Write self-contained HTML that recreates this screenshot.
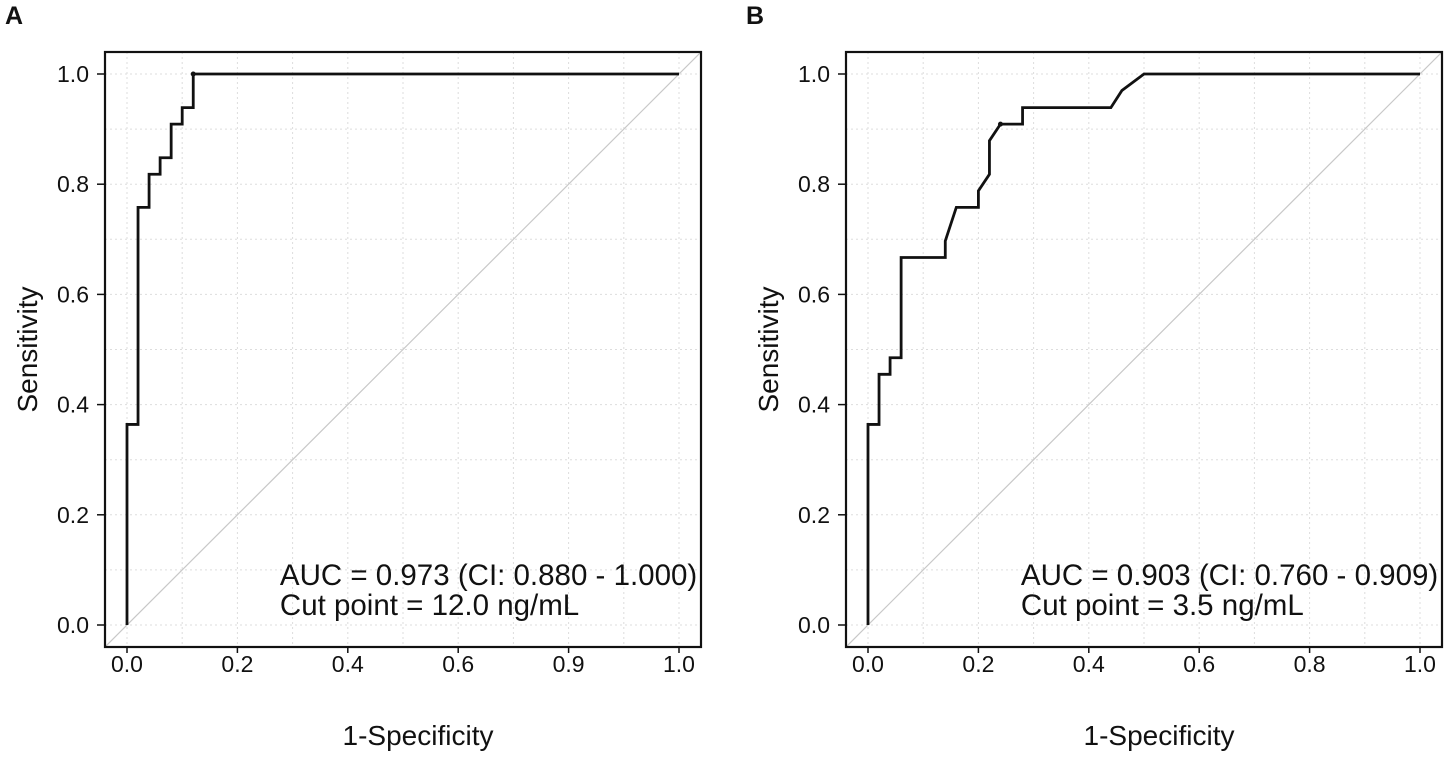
<!DOCTYPE html>
<html><head><meta charset="utf-8"><style>
body{margin:0;background:#fff}
svg text{font-family:"Liberation Sans",Arial,sans-serif;fill:#111}
</style></head><body>
<svg id="c" width="1446" height="756"></svg>
<script>
const xTicksA=["0.0","0.2","0.4","0.6","0.9","1.0"];
const xTicksB=["0.0","0.2","0.4","0.6","0.8","1.0"];
const yTicks=["0.0","0.2","0.4","0.6","0.8","1.0"];
const fprA=[0,0,0.02,0.02,0.04,0.04,0.06,0.06,0.08,0.08,0.10,0.10,0.12,0.12,1];
const tprA=[0,0.364,0.364,0.758,0.758,0.818,0.818,0.848,0.848,0.909,0.909,0.939,0.939,1,1];
const fprB=[0,0,0.02,0.02,0.04,0.04,0.06,0.06,0.14,0.14,0.16,0.20,0.20,0.22,0.22,0.24,0.28,0.28,0.44,0.46,0.50,1];
const tprB=[0,0.364,0.364,0.455,0.455,0.485,0.485,0.667,0.667,0.697,0.758,0.758,0.788,0.818,0.879,0.909,0.909,0.939,0.939,0.970,1,1];
const cutA=[0.12,1], cutB=[0.24,0.909];
const NS="http://www.w3.org/2000/svg";
const svg=document.getElementById('c');
function mk(t,a,p){const e=document.createElementNS(NS,t);for(const k in a)e.setAttribute(k,a[k]);(p||svg).appendChild(e);return e;}
function panel(id,x0,fpr,tpr,xt,cut,auc,cp){
  const g=mk('g',{});
  
  
  const X=v=>x0+v*552, Y=v=>625-v*551;
  for(let i=0;i<=10;i++){
    const gx=mk('line',{x1:X(i/10),x2:X(i/10),y1:52,y2:647,stroke:'#ddd','stroke-dasharray':'2,3'},g);
    
    
    const gy=mk('line',{x1:x0-22,x2:x0+574,y1:Y(i/10),y2:Y(i/10),stroke:'#ddd','stroke-dasharray':'2,3'},g);
    
    
  }
  const d=mk('line',{x1:X(-0.04),y1:Y(-0.04),x2:X(1.04),y2:Y(1.04),stroke:'#c8c8c8','stroke-width':1.2},g);
  
  
  const pts=fpr.map((f,i)=>X(f)+','+Y(tpr[i])).join(' ');
  const c=mk('polyline',{points:pts,fill:'none',stroke:'#111','stroke-width':2.8},g);
  
  
  const p=mk('circle',{cx:X(cut[0]),cy:Y(cut[1]),r:2.5,fill:'#111'},g);
  
  
  const b=mk('rect',{x:x0-22,y:52,width:596,height:595,fill:'none',stroke:'#111','stroke-width':2.2},g);
  
  
  xt.forEach((t,i)=>{const v=i/5;
    mk('line',{x1:X(v),x2:X(v),y1:647,y2:653,stroke:'#111','stroke-width':1.5},g);
    const tx=mk('text',{x:X(v),y:672,'text-anchor':'middle','font-size':23},g);tx.textContent=t;
    
    });
  yTicks.forEach((t,i)=>{const v=i/5;
    mk('line',{x1:x0-22,x2:x0-30,y1:Y(v),y2:Y(v),stroke:'#111','stroke-width':1.5},g);
    const tx=mk('text',{x:x0-38,y:Y(v)+8,'text-anchor':'end','font-size':23},g);tx.textContent=t;
    
    });
  const xl=mk('text',{x:X(0.5)+15,y:745,'text-anchor':'middle','font-size':28},g);xl.textContent='1-Specificity';
  
  
  const yl=mk('text',{x:0,y:0,'text-anchor':'middle','font-size':28,transform:`translate(${x0-90},${Y(0.5)}) rotate(-90)`},g);yl.textContent='Sensitivity';
  
  
  const a1=mk('text',{x:X(0.277),y:585,'font-size':29.5},g);a1.textContent=auc;
  
  
  const a2=mk('text',{x:X(0.277),y:615,'font-size':29.5},g);a2.textContent=cp;
  
  
  const L=mk('text',{x:x0-122,y:24,'font-size':25,'font-weight':'bold'},g);L.textContent=id;
  
  
}
panel('A',127,fprA,tprA,xTicksA,cutA,'AUC = 0.973 (CI: 0.880 - 1.000)','Cut point = 12.0 ng/mL');
panel('B',868,fprB,tprB,xTicksB,cutB,'AUC = 0.903 (CI: 0.760 - 0.909)','Cut point = 3.5 ng/mL');
</script>
</body></html>
